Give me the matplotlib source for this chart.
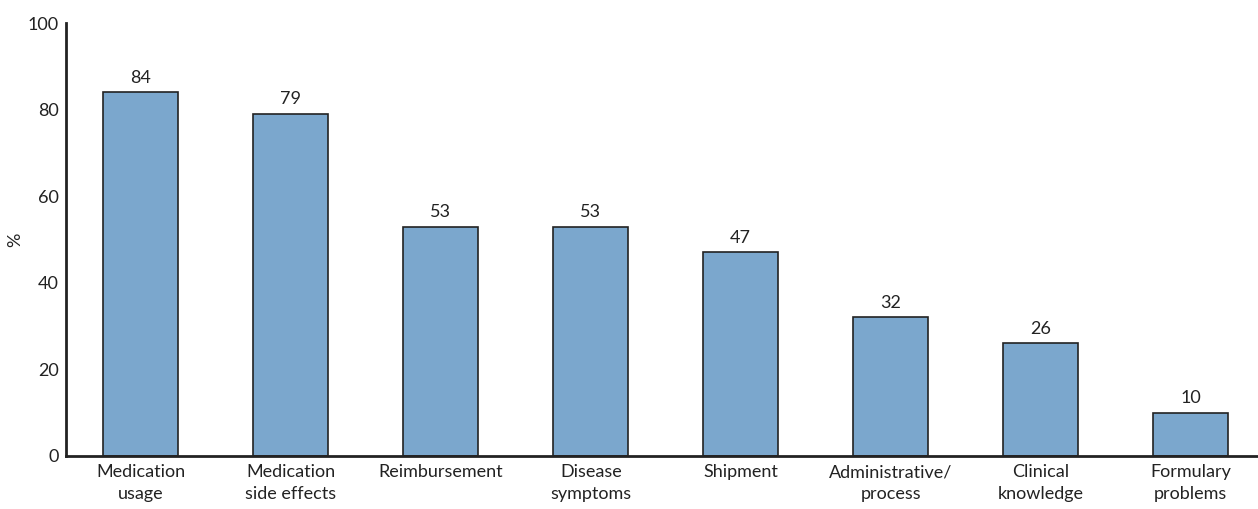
import matplotlib
matplotlib.use("Agg")
import matplotlib.pyplot as plt

categories = ["Medication\nusage", "Medication\nside effects", "Reimbursement",
              "Disease\nsymptoms", "Shipment", "Administrative/\nprocess",
              "Clinical\nknowledge", "Formulary\nproblems"]
values = [84, 79, 53, 53, 47, 32, 26, 10]
yticks = [0, 20, 40, 60, 80, 100]

plt.rcParams['font.family'] = ['Lato', 'DejaVu Sans']
plt.rcParams['font.size'] = 13

fig = plt.figure(figsize=(12.58, 5.09), dpi=100)
ax = fig.add_axes([66 / 1258, 1 - 456 / 509, 1 - 66 / 1258, (456 - 23) / 509])

x = range(len(values))
bars = ax.bar(x, values, width=0.5, color='#7BA7CD', edgecolor='#222222', linewidth=1.2)
for xi, v in zip(x, values):
    ax.text(xi, v + 1.5, str(v), ha='center', va='bottom', color='#222222')

ax.set_xlim(-0.5, 7.45)
ax.set_ylim(0, 100)
ax.set_yticks(yticks)
ax.set_xticks(list(x))
ax.set_xticklabels(categories, linespacing=1.4)
ax.tick_params(length=0, pad=6, colors='#222222')
ax.tick_params(axis='y', pad=5)
ax.set_ylabel('%', color='#222222')
ax.yaxis.set_label_coords(-0.036, 0.5)

for s in ['top', 'right']:
    ax.spines[s].set_visible(False)
for s in ['left', 'bottom']:
    ax.spines[s].set_linewidth(2)
    ax.spines[s].set_color('#222222')

fig.savefig('out.png', dpi=100)
